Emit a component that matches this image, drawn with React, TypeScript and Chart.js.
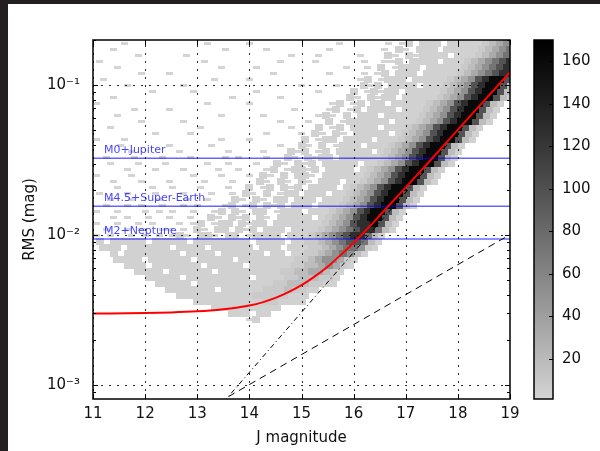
import React, { useEffect, useRef } from 'react';
import { Chart, registerables } from 'chart.js';

Chart.register(...registerables);

// ---------------- data ----------------
const xTickValues = [11, 12, 13, 14, 15, 16, 17, 18, 19];
const yTickValues = [0.001, 0.01, 0.1];
const yTickLabels = ['10⁻³', '10⁻²', '10⁻¹'];
const colorbarTicks = [20, 40, 60, 80, 100, 120, 140, 160];

// red noise model curve
const redCurveJ = [11, 12, 12.5, 13, 13.25, 13.5, 13.75, 14, 14.25, 14.5, 14.75, 15, 15.25, 15.5, 15.75, 16, 16.25, 16.5, 17, 17.5, 18, 18.5, 19];
const redCurveRms = [0.003, 0.00302, 0.00305, 0.0031, 0.00314, 0.0032, 0.00328, 0.00339, 0.00356, 0.00381, 0.00416, 0.00463, 0.00528, 0.00615, 0.00735, 0.0089, 0.0109, 0.0135, 0.0208, 0.0323, 0.0505, 0.0785, 0.122];

// dash-dot and dashed noise components
const dashDotJ = [13.5, 19];
const dashDotRms = [0.000767, 0.1216];
const dashedJ = [13.4, 19];
const dashedRms = [0.000764, 0.01007];

// detection limits
const limitNames = ['M0+Jupiter', 'M4.5+Super-Earth', 'M2+Neptune'];
const limitRms = [0.0326, 0.0156, 0.0094];

// hexbin density map: rows from top (log10 RMS = -0.72) downward in 0.04 dex steps,
// 60 columns over J = 11..19, odd rows shifted half a column (hex lattice).
// '.' empty, '-' single star, '1'..'9' increasing counts
const hexLevelCounts: Record<string, number> = { '-': 1, '1': 3, '2': 8, '3': 18, '4': 32, '5': 50, '6': 72, '7': 98, '8': 128, '9': 160 };
const hexRows = [
  '....-.....|......-...|..-.......|.....-....|..-.-1.111|.111112345',
  '..-.......|........-.|....-.....|...-......|.-.1-.111.|1111123456',
  '......-...|...-......|........-.|..-.....-.|..1-.1-111|1.11123456',
  '-.........|.....-....|......-...|.-......-.|.--1.1111.|1112345678',
  '...-......|........-.|...-......|......-..-|.1.-111.11|1112345678',
  '......-...|-.........|.....-....|...-....-.|-1.111.111|1123456788',
  '.-........|.......-..|..-.......|........-1|.-111.1111|1234578997',
  '....-.....|..-.......|.........-|....-...1-|1.1111.111|2345789973',
  '........-.|....-.....|...-......|..-....1.-|1-11.11111|2345789973',
  '..-.......|.........-|......-...|......1-.1|-11.111112|3457899731',
  '-.........|......-...|..-.......|....-1.-1.|11.1111123|457899731.',
  '.....-....|-.........|........-.|...-1.-1.1|111.111234|57899731..',
  '...-......|........-.|....-.....|..-1-.1.11|1.11111234|57899731..',
  '......-...|..-.......|......-...|-..1.-1111|11.1112345|7899731...',
  '..-.......|.....-....|........-.|..1.-1.111|1.11123457|899731....',
  '........-.|...-......|....-....-|.1-.1-.111|11.1234578|99731.....',
  '-...-.....|........-.|..-.......|1.-11.1111|.111234578|99731.....',
  '...-......|-.....-...|......-..1|-.1.-111.1|1123457899|731.......',
  '.....-....|..-......-|....-...1-|1.-1.11111|.123457899|731.......',
  '.-...-...-|...-....-.|-...-..1-.|1-11.11111|1234578997|31........',
  '..-...-...|-.....-..-|...-..1-.1|-1.11111.1|1234578997|31........',
  '....-...-.|..-....-..|-...-1.-11|-1.1111.12|3457899731|..........',
  '-....-....|....-...-.|..-.1-.1.1|1-.1111112|3457899731|..........',
  '..-...-...|-....-...-|...1-.1-.1|-.111.1123|457899731.|..........',
  '...-....-.|.-...-...-|..1.-1.1-1|.1111.1234|57899731..|..........',
  '-...-...-.|..-...-..-|.1-.1.-11.|111.112345|7899731...|..........',
  '..-..-...-|...-..-...|1-.1-.11.1|11.1112345|7899731...|..........',
  '.-..-.-..-|..-.-...-1|.-1.1-1.11|1.11123457|899731....|..........',
  '-..-...-.-|.-..-..-1.|1-.11.-111|.111234578|99731.....|..........',
  '..-.-..-..|-..-..1-.1|-1.1-.1111|1.12345789|9731......|..........',
  '-..-..-.-.|..-.-1.-11|.1-11.1111|1112345788|9731......|..........',
  '.-..-.-..-|-.-.1-.11.|1-1.111.11|1123456788|631.......|..........',
  '-.-..-.-.-|.-1-.11-.1|1.-1111.11|1234567886|31........|..........',
  '1.11111.11|111.111111|11.1111.11|2234567763|1.........|..........',
  '.111.11111|1.1111.111|111.111.11|1223456652|1.........|..........',
  '..1.111111|11.1111.11|1111.11.11|223456531.|..........|..........',
  '...1111.11|1111.11111|.111111112|23455421..|..........|..........',
  '....111.11|11111.1111|1.11111122|3345421...|..........|..........',
  '......1111|.111111.11|1111111223|344321....|..........|..........',
  '.......111|11.1111111|11.1111223|33221.....|..........|..........',
  '.........1|1111.11111|1111112233|32211.....|..........|..........',
  '..........|1111111.11|1111222322|11........|..........|..........',
  '..........|..11111111|1112222211|1.........|..........|..........',
  '..........|....111111|1111221111|..........|..........|..........',
  '..........|.......111|1111111...|..........|..........|..........',
  '..........|.........1|11.11.....|..........|..........|..........',
  '..........|..........|..-1......|..........|..........|..........',
];
const HEX_COLS = 60;
const HEX_J_MIN = 11;
const HEX_J_MAX = 19;
const HEX_TOP_LOG = -0.72;
const HEX_ROW_STEP = 0.04;
const COUNT_MIN = 1;
const COUNT_MAX = 170;

// ---------------- helpers ----------------
const FONT = 'DejaVu Sans';

function grayFor(count: number): string {
  const t = Math.min(1, Math.max(0, (count - COUNT_MIN) / (COUNT_MAX - COUNT_MIN)));
  const g = Math.round(212 * Math.pow(1 - t, 1.1));
  return `rgb(${g},${g},${g})`;
}

function makeCell(w: number, h: number, color: string): HTMLCanvasElement {
  const c = document.createElement('canvas');
  c.width = w;
  c.height = h;
  const cx = c.getContext('2d')!;
  cx.fillStyle = color;
  cx.fillRect(0, 0, w, h);
  return c;
}

const LINE_COUNT = 3 + limitRms.length;

const decorPlugin = {
  id: 'decor',
  beforeDatasetDraw(chart: any, args: any) {
    if (args.index !== LINE_COUNT - 1) return;
    const { ctx, chartArea: a, scales } = chart;
    const x = scales.x;
    const y = scales.y;
    ctx.save();
    ctx.beginPath();
    ctx.rect(a.left, a.top, a.right - a.left, a.bottom - a.top);
    ctx.clip();
    ctx.strokeStyle = 'rgba(0,0,0,0.85)';
    ctx.lineWidth = 1;
    ctx.setLineDash([2, 6]);
    xTickValues.forEach((v) => {
      const px = Math.round(x.getPixelForValue(v)) + 0.5;
      ctx.beginPath();
      ctx.moveTo(px, a.bottom);
      ctx.lineTo(px, a.top);
      ctx.stroke();
    });
    yTickValues.forEach((v) => {
      const py = Math.round(y.getPixelForValue(v)) + 0.5;
      ctx.beginPath();
      ctx.moveTo(a.left, py);
      ctx.lineTo(a.right, py);
      ctx.stroke();
    });
    ctx.restore();
  },
  afterDraw(chart: any) {
    const { ctx, chartArea: a, scales } = chart;
    const x = scales.x;
    const y = scales.y;
    ctx.save();
    // limit labels
    ctx.font = `11px "${FONT}"`;
    ctx.fillStyle = 'rgba(20,20,255,0.8)';
    ctx.textAlign = 'left';
    ctx.textBaseline = 'alphabetic';
    limitNames.forEach((n, i) => {
      ctx.fillText(n, x.getPixelForValue(11.21), y.getPixelForValue(limitRms[i]) - 5.5);
    });
    // ticks
    ctx.strokeStyle = '#000';
    ctx.lineWidth = 1;
    ctx.setLineDash([]);
    ctx.beginPath();
    xTickValues.forEach((v) => {
      const px = Math.round(x.getPixelForValue(v)) + 0.5;
      ctx.moveTo(px, a.bottom);
      ctx.lineTo(px, a.bottom - 5);
      ctx.moveTo(px, a.top);
      ctx.lineTo(px, a.top + 5);
    });
    [1e-4, 1e-3, 1e-2, 1e-1].forEach((d) => {
      for (let m = 1; m <= 9; m++) {
        const v = m * d;
        if (v < y.min || v > y.max) continue;
        const py = Math.round(y.getPixelForValue(v)) + 0.5;
        const len = m === 1 ? 5 : 3;
        ctx.moveTo(a.left, py);
        ctx.lineTo(a.left + len, py);
        ctx.moveTo(a.right, py);
        ctx.lineTo(a.right - len, py);
      }
    });
    ctx.stroke();
    // frame
    ctx.lineWidth = 1.5;
    ctx.strokeRect(a.left, a.top, a.right - a.left, a.bottom - a.top);
    ctx.restore();
  },
};

const colorbarPlugin = {
  id: 'cbframe',
  afterDraw(chart: any) {
    const { ctx, chartArea: a, scales } = chart;
    const y = scales.y;
    ctx.save();
    ctx.strokeStyle = '#000';
    ctx.lineWidth = 1;
    ctx.beginPath();
    colorbarTicks.forEach((v) => {
      const py = Math.round(y.getPixelForValue(v)) + 0.5;
      ctx.moveTo(a.right, py);
      ctx.lineTo(a.right - 4, py);
    });
    ctx.stroke();
    ctx.lineWidth = 1.5;
    ctx.strokeRect(a.left, a.top, a.right - a.left, a.bottom - a.top);
    ctx.restore();
  },
};

export default function App() {
  const mainRef = useRef<HTMLCanvasElement>(null);
  const cbRef = useRef<HTMLCanvasElement>(null);

  useEffect(() => {
    document.body.style.margin = '0';
    const colW = (HEX_J_MAX - HEX_J_MIN) / HEX_COLS;
    const levelOrder = ['9', '8', '7', '6', '5', '4', '3', '2', '1', '-'];
    const buckets: Record<string, { x: number; y: number }[]> = {};
    levelOrder.forEach((l) => (buckets[l] = []));
    hexRows.forEach((raw, r) => {
      const row = raw.replace(/\|/g, '');
      const off = (r % 2) * 0.5;
      const rms = Math.pow(10, HEX_TOP_LOG - HEX_ROW_STEP * r);
      for (let c = 0; c < row.length; c++) {
        const ch = row[c];
        if (buckets[ch]) buckets[ch].push({ x: HEX_J_MIN + (c + 0.5 + off) * colW, y: rms });
      }
    });

    const lineDatasets: any[] = [
      {
        type: 'line',
        label: 'model',
        data: redCurveJ.map((j, i) => ({ x: j, y: redCurveRms[i] })),
        borderColor: '#ff0000',
        borderWidth: 2,
        pointRadius: 0,
        cubicInterpolationMode: 'monotone',
        fill: false,
      },
      {
        type: 'line',
        label: 'dashdot',
        data: dashDotJ.map((j, i) => ({ x: j, y: dashDotRms[i] })),
        borderColor: '#000',
        borderWidth: 1,
        borderDash: [5, 3, 1, 3],
        pointRadius: 0,
        fill: false,
      },
      {
        type: 'line',
        label: 'dashed',
        data: dashedJ.map((j, i) => ({ x: j, y: dashedRms[i] })),
        borderColor: '#000',
        borderWidth: 1,
        borderDash: [7, 5],
        pointRadius: 0,
        fill: false,
      },
      ...limitRms.map((v, i) => ({
        type: 'line',
        label: limitNames[i],
        data: [
          { x: HEX_J_MIN, y: v },
          { x: HEX_J_MAX, y: v },
        ],
        borderColor: 'rgba(0,0,255,0.6)',
        borderWidth: 1.5,
        pointRadius: 0,
        fill: false,
      })),
    ];

    const hexDatasets = levelOrder.map((l) => {
      const color = grayFor(hexLevelCounts[l]);
      const cell = l === '-' ? makeCell(7, 3, color) : makeCell(8, 7, color);
      return {
        type: 'scatter',
        label: 'hex' + l,
        data: buckets[l],
        showLine: false,
        pointStyle: cell,
        pointRadius: 2,
        borderWidth: 0,
        backgroundColor: color,
      };
    });

    const tickFont = { family: FONT, size: 15 };
    const main = new Chart(mainRef.current!, {
      type: 'scatter',
      data: { datasets: [...lineDatasets, ...hexDatasets] as any },
      options: {
        responsive: false,
        animation: false,
        devicePixelRatio: 1,
        events: [],
        layout: { padding: { left: 0, top: 40, right: 90, bottom: 0 } },
        plugins: { legend: { display: false }, tooltip: { enabled: false } },
        scales: {
          x: {
            type: 'linear',
            min: HEX_J_MIN,
            max: HEX_J_MAX,
            grid: { display: false, drawTicks: false },
            border: { display: false },
            afterBuildTicks: (s: any) => {
              s.ticks = xTickValues.map((v) => ({ value: v }));
            },
            afterFit: (s: any) => {
              s.height = 52;
            },
            ticks: { font: tickFont, color: '#111', padding: 6, autoSkip: false, maxRotation: 0, callback: (v: any) => String(v) },
            title: { display: true, text: 'J magnitude', font: tickFont, color: '#111', padding: { top: 0, bottom: 4 } },
          },
          y: {
            type: 'logarithmic',
            min: 0.000807,
            max: 0.2,
            grid: { display: false, drawTicks: false },
            border: { display: false },
            afterBuildTicks: (s: any) => {
              s.ticks = yTickValues.map((v) => ({ value: v }));
            },
            afterFit: (s: any) => {
              s.width = 93;
            },
            ticks: {
              font: tickFont,
              color: '#111',
              padding: 13,
              autoSkip: false,
              callback: (v: any) => {
                const i = yTickValues.findIndex((t) => Math.abs(t - Number(v)) / t < 1e-6);
                return i >= 0 ? yTickLabels[i] : '';
              },
            },
            title: { display: true, text: 'RMS (mag)', font: tickFont, color: '#111', padding: { top: 21, bottom: 0 } },
          },
        },
      } as any,
      plugins: [decorPlugin],
    });

    const cb = new Chart(cbRef.current!, {
      type: 'bar',
      data: {
        labels: ['counts'],
        datasets: [
          {
            data: [[COUNT_MIN, COUNT_MAX]] as any,
            backgroundColor: (ctx: any) => {
              const chart = ctx.chart;
              const ys = chart.scales && chart.scales.y;
              if (!chart.chartArea || !ys) return '#888';
              const g = chart.ctx.createLinearGradient(0, ys.getPixelForValue(COUNT_MIN), 0, ys.getPixelForValue(COUNT_MAX));
              for (let s = 0; s <= 20; s++) {
                g.addColorStop(s / 20, grayFor(COUNT_MIN + ((COUNT_MAX - COUNT_MIN) * s) / 20));
              }
              return g;
            },
            borderWidth: 0,
            barPercentage: 1,
            categoryPercentage: 1,
          },
        ],
      },
      options: {
        responsive: false,
        animation: false,
        devicePixelRatio: 1,
        events: [],
        layout: { padding: { left: 14, top: 40, right: 0, bottom: 52 } },
        plugins: { legend: { display: false }, tooltip: { enabled: false } },
        scales: {
          x: { display: false },
          y: {
            position: 'right',
            min: COUNT_MIN,
            max: COUNT_MAX,
            grid: { display: false, drawTicks: false },
            border: { display: false },
            afterBuildTicks: (s: any) => {
              s.ticks = colorbarTicks.map((v) => ({ value: v }));
            },
            afterFit: (s: any) => {
              s.width = 47;
            },
            ticks: { font: tickFont, color: '#111', padding: 9, autoSkip: false },
          },
        },
      } as any,
      plugins: [colorbarPlugin],
    });

    return () => {
      main.destroy();
      cb.destroy();
    };
  }, []);

  return (
    <div style={{ position: 'relative', width: 600, height: 451, background: '#231f20', overflow: 'hidden' }}>
      <div style={{ position: 'absolute', left: 8, top: 4, right: 0, bottom: 0, background: '#ffffff' }} />
      <canvas ref={mainRef} width={600} height={451} style={{ position: 'absolute', left: 0, top: 0 }} />
      <canvas ref={cbRef} width={80} height={451} style={{ position: 'absolute', left: 520, top: 0 }} />
    </div>
  );
}
